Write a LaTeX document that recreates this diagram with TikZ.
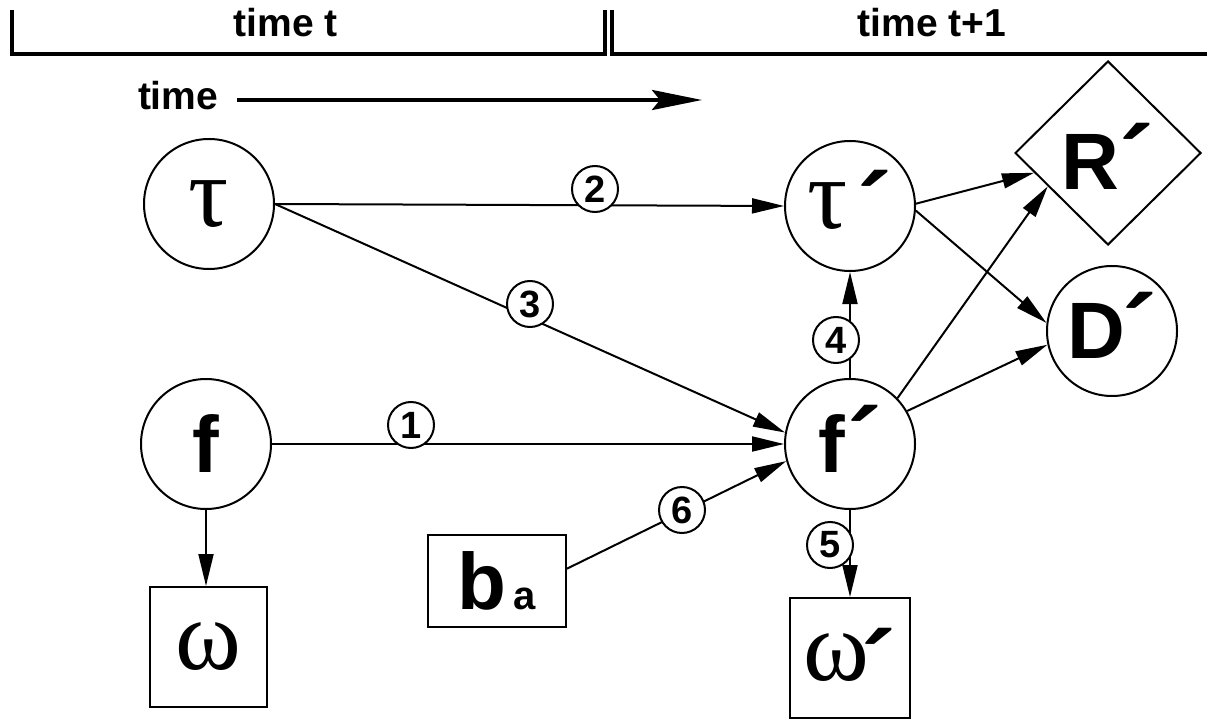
\documentclass[tikz,border=0pt]{standalone}
\usepackage{fontspec}
\setmainfont{Liberation Sans}
\newfontfamily\grfont{Liberation Serif}
\usetikzlibrary{arrows.meta,shapes.geometric,calc}
\newcommand\myprime[2]{\hspace*{#1}\smash{\raisebox{#2}{\normalfont\fontsize{104}{104}\selectfont\bfseries ´}}}
\begin{document}
\begin{tikzpicture}[x=1pt,y=-1pt,line width=2pt,
  bignode/.style={circle,draw,minimum size=130pt,inner sep=0pt},
  boxnode/.style={rectangle,draw,inner sep=0pt},
  big/.style={font=\fontsize{80}{80}\selectfont\bfseries},
  greek/.style={font=\fontsize{100}{100}\selectfont\grfont},
  lab/.style={circle,draw,fill=white,minimum size=46pt,inner sep=0pt,font=\fontsize{38}{38}\selectfont\bfseries},
  headtext/.style={font=\fontsize{39}{39}\selectfont\bfseries},
  edge/.style={-{Triangle[length=32pt,width=15pt]}}]
\useasboundingbox (0,0) rectangle (1207,719);
% brackets
\draw[line width=3.5pt] (12,10) -- (12,54) -- (605,54) -- (605,10);
\draw[line width=3.5pt] (612,10) -- (612,54) -- (1207,54);
\node[headtext,anchor=base] (tt) at (286,37) {time t};
\node[headtext,anchor=base] (tt1) at (932,37) {time t+1};
\node[headtext,anchor=base west,inner sep=0pt] (time) at (137,110) {time};
\coordinate (tend) at (702,100);
\draw[line width=4pt,-{Stealth[length=50pt,width=20pt,inset=8pt]}] ($(time.east|-tend)+(18,0)$) -- (tend);
% nodes
\node[bignode,greek] (tau) at (209,204) {τ};
\node[bignode,greek] (taup) at (850,206) {τ\myprime{10pt}{-18pt}};
\node[diamond,draw,minimum width=186pt,minimum height=184pt,inner sep=0pt,big,text height=74pt,text depth=0pt] (Rp) at (1108,153) {R\myprime{0pt}{-10pt}};
\node[bignode,big] (Dp) at (1112,331) {D\myprime{-3pt}{-10pt}};
\node[bignode,big] (f) at (206,444) {f};
\node[bignode,big] (fp) at (850,444) {f\myprime{2pt}{-9pt}};
\node[boxnode,greek,minimum width=117pt,minimum height=120pt] (om) at (208,647) {ω};
\node[boxnode,big,minimum width=138pt,minimum height=92pt] (ba) at (497,581) {b\hspace{7pt}{\fontsize{40}{40}\selectfont a}};
\node[boxnode,greek,minimum width=120pt,minimum height=120pt] (omp) at (850,658) {ω\myprime{-8pt}{-24pt}};
% edges
\draw[edge] (f.south) -- (f.south |- om.north);
\draw[edge] (f.east) -- (fp.west);
\draw[edge] (tau.east) -- (taup.west);
\draw[edge] (tau.east) -- (fp.170);
\draw[edge] (ba.10) -- (fp.195);
\draw[edge] (fp.north) -- (taup.south);
\draw[edge] (fp.south) -- (omp.north);
\draw[edge] (taup.2) -- (Rp.195);
\draw[edge] (taup.-4) -- (Dp.173);
\draw[edge] (fp.44) -- (Rp.209);
\draw[edge] (fp.30) -- (Dp.192);
% labels
\node[lab] (l1) at (411,425) {1};
\node[lab] (l2) at (595,189) {2};
\node[lab] (l3) at (530,304) {3};
\node[lab] (l4) at (836,340) {4};
\node[lab] (l5) at (830,545) {5};
\node[lab] (l6) at (682,510) {6};
\end{tikzpicture}
\end{document}
